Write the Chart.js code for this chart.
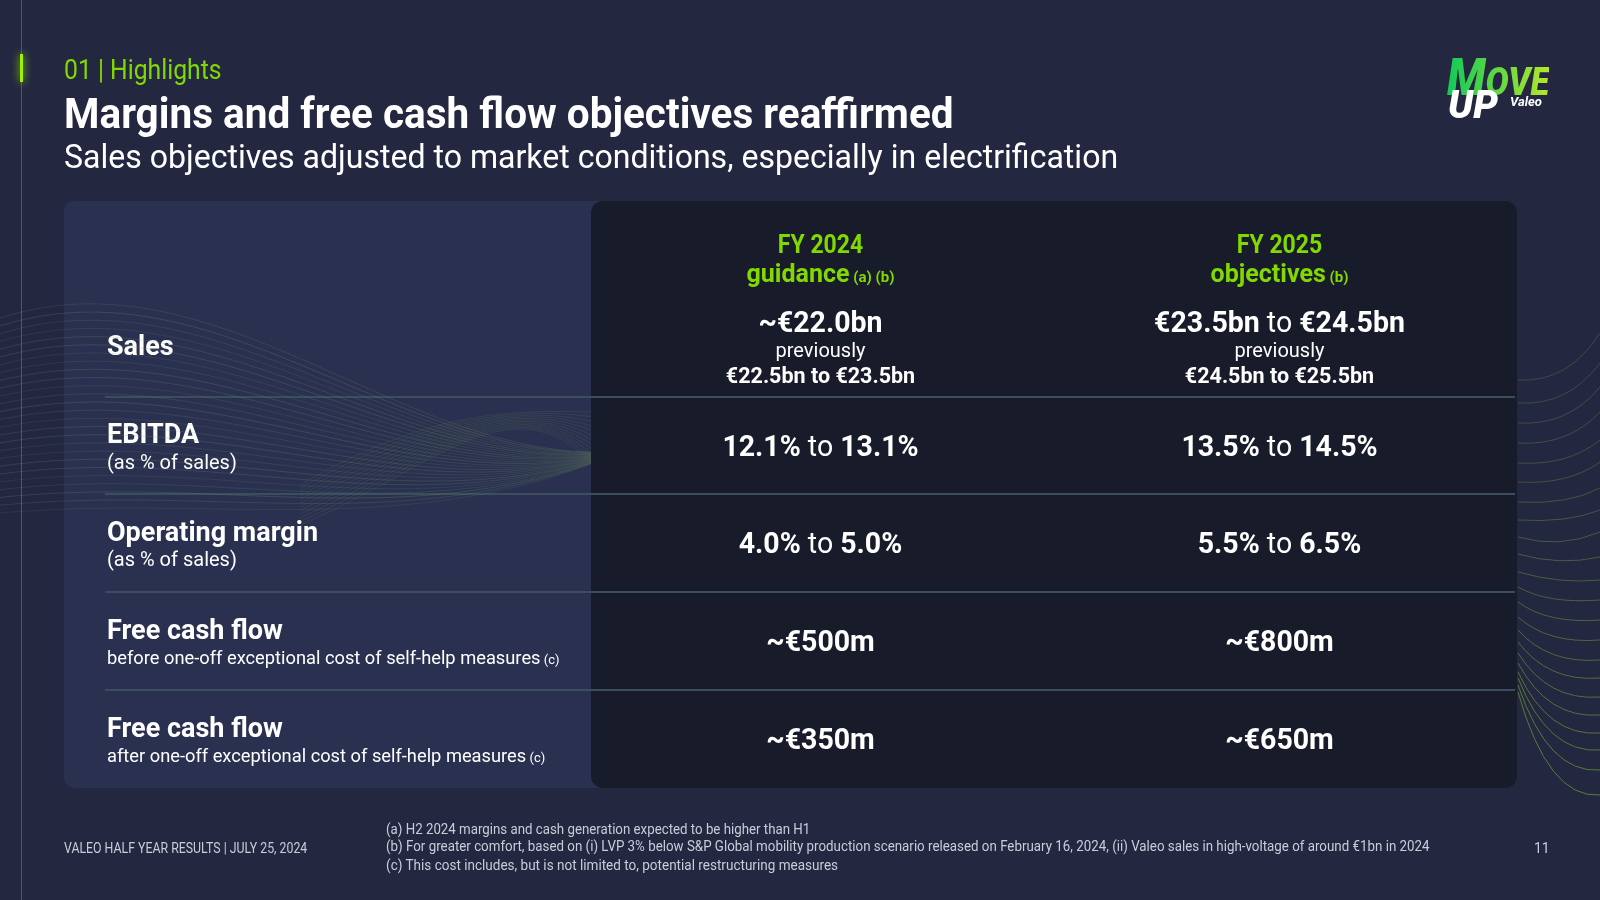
<!DOCTYPE html>
<html>
<head>
<meta charset="utf-8">
<script src="https://cdn.jsdelivr.net/npm/chart.js@4.4.1/dist/chart.umd.min.js"></script>
<style>
  html, body { margin: 0; padding: 0; }
  body { width: 1600px; height: 900px; background: #232740; position: relative; overflow: hidden;
         font-family: Roboto, "Noto Sans", sans-serif; color: #fff; }
  #deco { position: absolute; left: 0; top: 0; }
  #waves { position: absolute; left: 0; top: 0; pointer-events: none; }
  #table { position: absolute; left: 64px; top: 201px; }
  .t { position: absolute; white-space: nowrap; line-height: 1; transform-origin: 0 0; }
  .logo { position: absolute; font-family: Roboto, sans-serif; font-style: italic; font-weight: 900; line-height: 1;
          white-space: nowrap; transform-origin: 0 0; }
</style>
</head>
<body>
<canvas id="deco" width="1600" height="900"></canvas>

<div class="t" data-base="79.6" data-size="28" data-w="158" style="left:64px;color:#82d900;">01 | Highlights</div>
<div class="t" data-base="128.6" data-size="43" data-w="890" style="left:64px;font-weight:700;">Margins and free cash flow objectives reaffirmed</div>
<div class="t" data-base="167.3" data-size="33" data-w="1054" style="left:64px;">Sales objectives adjusted to market conditions, especially in electrification</div>

<div class="logo" id="move" style="left:1447px;top:52px;"><span style="font-size:51px;">M</span><span style="font-size:39px;">OVE</span></div>
<div class="logo" style="left:1448px;top:86px;font-size:39px;">UP</div>
<div class="logo" style="left:1510px;top:95px;font-size:13px;font-weight:700;">Valeo</div>

<canvas id="table" width="1453" height="587"></canvas>
<canvas id="waves" width="600" height="900"></canvas>

<div class="t" data-base="853" data-size="14" data-w="243" style="left:64px;color:#c9cdd8;">VALEO HALF YEAR RESULTS | JULY 25, 2024</div>
<div class="t" data-base="833.7" data-size="14" data-w="424" style="left:386px;color:#c9cdd8;">(a) H2 2024 margins and cash generation expected to be higher than H1</div>
<div class="t" data-base="851" data-size="14" data-w="1044" style="left:386px;color:#c9cdd8;">(b) For greater comfort, based on (i) LVP 3% below S&amp;P Global mobility production scenario released on February 16, 2024, (ii) Valeo sales in high-voltage of around €1bn in 2024</div>
<div class="t" data-base="869.4" data-size="14" data-w="452" style="left:386px;color:#c9cdd8;">(c) This cost includes, but is not limited to, potential restructuring measures</div>
<div class="t" data-base="853" data-size="14" style="left:1534px;color:#c9cdd8;">11</div>

<script>
// table content
const columns = ['FY 2024', 'FY 2025'];
const columnTags = ['guidance', 'objectives'];
const columnRefs = ['(a) (b)', '(b)'];
const rowLabels = ['Sales', 'EBITDA', 'Operating margin', 'Free cash flow', 'Free cash flow'];
const rowNotes = ['', '(as % of sales)', '(as % of sales)',
  'before one-off exceptional cost of self-help measures',
  'after one-off exceptional cost of self-help measures'];
const rowNoteRefs = ['', '', '', '(c)', '(c)'];
const fy2024Values = ['~€22.0bn', '12.1% to 13.1%', '4.0% to 5.0%', '~€500m', '~€350m'];
const fy2025Values = ['€23.5bn to €24.5bn', '13.5% to 14.5%', '5.5% to 6.5%', '~€800m', '~€650m'];
const fy2024Previous = ['€22.5bn to €23.5bn', '', '', '', ''];
const fy2025Previous = ['€24.5bn to €25.5bn', '', '', '', ''];

const FONT = 'Roboto, "Noto Sans", sans-serif';
const GREEN = '#82d900';

// html text: place on baseline and squeeze to the measured width
document.querySelectorAll('.t').forEach((el) => {
  const size = +el.dataset.size;
  el.style.fontSize = size + 'px';
  el.style.top = (+el.dataset.base - 0.842 * size) + 'px';
  if (el.dataset.w) {
    el.style.transform = 'scaleX(' + (+el.dataset.w / el.offsetWidth) + ')';
  }
});
const move = document.getElementById('move');
move.style.transform = 'scaleX(' + (102 / move.offsetWidth) + ')';
move.style.background = 'linear-gradient(90deg, #12c95a, #b4e62a)';
move.style.webkitBackgroundClip = 'text';
move.style.color = 'transparent';

// background lines
function drawDeco() {
  const c = document.getElementById('deco').getContext('2d');
  c.fillStyle = 'rgba(110,150,50,0.55)';
  c.fillRect(21, 0, 1, 900);
  c.shadowColor = '#a6ff00';
  c.shadowBlur = 8;
  c.fillStyle = '#9cf000';
  c.fillRect(20, 54, 3, 28);
  c.shadowBlur = 0;

  // fan on the right of the table
  const starts = [380, 403, 423, 443, 463, 482, 502, 520, 537, 554, 572, 587, 602, 617, 630, 642, 653, 663, 672, 678, 685, 692];
  const ends = [333, 363, 387, 412, 440, 462, 488, 510, 532, 557, 580, 600, 620, 640, 660, 678, 697, 715, 733, 750, 770, 795];
  c.lineWidth = 1;
  starts.forEach((s, i) => {
    const e = ends[i];
    const g = i / (starts.length - 1);
    c.strokeStyle = 'rgba(' + Math.round(75 + g * 25) + ',' + Math.round(100 + g * 40) + ',' + Math.round(70 - g * 15) + ',' + (0.6 + g * 0.25) + ')';
    c.beginPath();
    c.moveTo(1518, s);
    if (e < s - 8) {
      c.quadraticCurveTo(1568, s + 3, 1600, e);
    } else if (e > s + 8) {
      c.quadraticCurveTo(1548, e + 4, 1600, e);
    } else {
      c.quadraticCurveTo(1560, s + 12, 1600, e);
    }
    c.stroke();
  });

  // waves crossing the left panel
  const w = document.getElementById('waves').getContext('2d');
  w.lineWidth = 1;
  const n = 26;
  for (let i = 0; i < n; i++) {
    const t = i / (n - 1);
    w.strokeStyle = 'rgba(115,150,95,' + (0.2 + 0.05 * Math.sin(i * 1.7)) + ')';
    w.beginPath();
    w.moveTo(0, 318 + t * 195);
    w.bezierCurveTo(210, 250 + t * 245, 390, 448 + t * 90, 591, 452 + t * 12);
    w.stroke();
  }
  for (let i = 0; i < 12; i++) {
    const t = i / 11;
    w.strokeStyle = 'rgba(110,150,80,0.16)';
    w.beginPath();
    w.moveTo(300, 525 - t * 40);
    w.bezierCurveTo(430, 470 - t * 60, 510, 380 + t * 30, 591, 462 - t * 50);
    w.stroke();
  }
}
drawDeco();

function drawRuns(ctx, runs, x, base, align, sx) {
  sx = sx || 1;
  let total = 0;
  runs.forEach((r) => { ctx.font = r.font; r.w = ctx.measureText(r.text).width; total += r.w; });
  const start = align === 'left' ? x : x - total * sx / 2;
  ctx.save();
  ctx.translate(start, base);
  ctx.scale(sx, 1);
  ctx.textAlign = 'left';
  ctx.textBaseline = 'alphabetic';
  let cx = 0;
  runs.forEach((r) => { ctx.font = r.font; ctx.fillStyle = r.color; ctx.fillText(r.text, cx, 0); cx += r.w; });
  ctx.restore();
}

function valueRuns(text, size, boldTo) {
  const b = 'bold ' + size + 'px ' + FONT;
  const n = (boldTo ? 'bold ' : '') + size + 'px ' + FONT;
  const parts = text.split(' to ');
  if (parts.length === 1) return [{ text, font: b, color: '#fff' }];
  return [{ text: parts[0], font: b, color: '#fff' },
          { text: ' to ', font: n, color: '#fff' },
          { text: parts[1], font: b, color: '#fff' }];
}

const tablePlugin = {
  id: 'valeoTable',
  beforeDraw(chart) {
    const { ctx, chartArea: a, width, height } = chart;
    const y = chart.scales.y;
    ctx.save();
    ctx.fillStyle = '#2a3150';
    ctx.beginPath();
    ctx.roundRect(0, 0, a.left + 20, height, 10);
    ctx.fill();
    ctx.fillStyle = '#181b29';
    ctx.beginPath();
    ctx.roundRect(a.left, 0, width - a.left, height, 12);
    ctx.fill();
    ctx.strokeStyle = '#3a4e5e';
    ctx.lineWidth = 2;
    for (let i = 0; i < rowLabels.length - 1; i++) {
      const yb = Math.round((y.getPixelForValue(i) + y.getPixelForValue(i + 1)) / 2);
      ctx.beginPath();
      ctx.moveTo(41, yb);
      ctx.lineTo(width - 2, yb);
      ctx.stroke();
    }
    ctx.restore();
  },
  afterDatasetsDraw(chart) {
    const { ctx } = chart;
    const x = chart.scales.x;
    const y = chart.scales.y;
    // column headers
    const hc = (x.top + x.bottom) / 2;
    columns.forEach((col, c) => {
      const px = x.getPixelForValue(c);
      drawRuns(ctx, [{ text: col, font: 'bold 25px ' + FONT, color: GREEN }], px, hc + 3, 'center', 0.92);
      drawRuns(ctx, [{ text: columnTags[c], font: 'bold 25px ' + FONT, color: GREEN },
                     { text: ' ' + columnRefs[c], font: 'bold 15px ' + FONT, color: GREEN }], px, hc + 31.7);
    });
    // row labels
    rowLabels.forEach((lab, i) => {
      const cy = y.getPixelForValue(i);
      if (!rowNotes[i]) {
        drawRuns(ctx, [{ text: lab, font: 'bold 27px ' + FONT, color: '#fff' }], 43, cy + 7.3, 'left');
        return;
      }
      drawRuns(ctx, [{ text: lab, font: 'bold 27px ' + FONT, color: '#fff' }], 43, cy - 2.5, 'left');
      const noteSize = rowNoteRefs[i] ? 18.3 : 20;
      const runs = [{ text: rowNotes[i], font: noteSize + 'px ' + FONT, color: '#fff' }];
      if (rowNoteRefs[i]) runs.push({ text: ' ' + rowNoteRefs[i], font: '13px ' + FONT, color: '#fff' });
      drawRuns(ctx, runs, 43, cy + 23, 'left');
    });
    // cells, placed on the dataset points
    chart.data.datasets.forEach((ds, d) => {
      const meta = chart.getDatasetMeta(d);
      meta.data.forEach((pt, i) => {
        const prev = ds.previous[i];
        if (prev) {
          drawRuns(ctx, valueRuns(ds.values[i], 30), pt.x, pt.y - 16, 'center', 0.95);
          drawRuns(ctx, [{ text: 'previously', font: '20px ' + FONT, color: '#fff' }], pt.x, pt.y + 9.5);
          drawRuns(ctx, valueRuns(prev, 21.5, true), pt.x, pt.y + 35);
        } else {
          drawRuns(ctx, valueRuns(ds.values[i], 30), pt.x, pt.y + 10, 'center', 0.95);
        }
      });
    });
  }
};

new Chart(document.getElementById('table'), {
  type: 'scatter',
  data: {
    datasets: [
      { label: columns[0], data: rowLabels.map((r) => ({ x: columns[0], y: r })),
        values: fy2024Values, previous: fy2024Previous, pointRadius: 0 },
      { label: columns[1], data: rowLabels.map((r) => ({ x: columns[1], y: r })),
        values: fy2025Values, previous: fy2025Previous, pointRadius: 0 }
    ]
  },
  options: {
    responsive: false,
    animation: false,
    events: [],
    layout: { padding: { right: 8 } },
    plugins: { legend: { display: false }, tooltip: { enabled: false } },
    scales: {
      x: {
        type: 'category', labels: columns, position: 'top', offset: true,
        grid: { display: false }, border: { display: false }, ticks: { display: false },
        afterFit: (s) => { s.height = 97.8; }
      },
      y: {
        type: 'category', labels: rowLabels, offset: true,
        grid: { display: false }, border: { display: false }, ticks: { display: false },
        afterFit: (s) => { s.width = 527; }
      }
    }
  },
  plugins: [tablePlugin]
});
</script>
</body>
</html>
